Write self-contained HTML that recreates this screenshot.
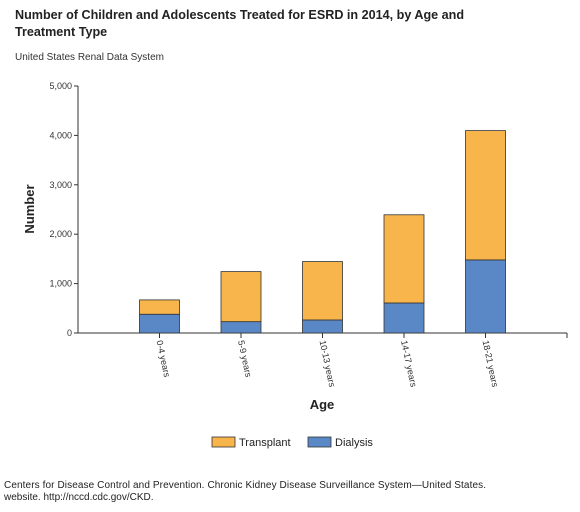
<!DOCTYPE html>
<html><head><meta charset="utf-8"><style>
body{margin:0;background:#fff;width:580px;height:507px;overflow:hidden;font-family:"Liberation Sans",sans-serif;}
</style></head><body>
<svg id="c" width="580" height="507" xmlns="http://www.w3.org/2000/svg">
<text x="15" y="19" font-size="12.6" font-weight="bold" fill="#222">Number of Children and Adolescents Treated for ESRD in 2014, by Age and</text>
<text x="15" y="36" font-size="12.6" font-weight="bold" fill="#222">Treatment Type</text>
<text x="15" y="60" font-size="10" fill="#333">United States Renal Data System</text>
<g id="plot"></g>
<text transform="translate(34,209) rotate(-90)" text-anchor="middle" font-size="13" font-weight="bold" fill="#222">Number</text>
<text x="322" y="409" text-anchor="middle" font-size="13" font-weight="bold" fill="#222">Age</text>
<g><rect x="212" y="437" width="23" height="10" fill="#F8B54B" stroke="#333" stroke-width="0.8"/><text x="239" y="446" font-size="11" fill="#222">Transplant</text></g>
<g><rect x="308" y="437" width="23" height="10" fill="#5A88C6" stroke="#333" stroke-width="0.8"/><text x="335" y="446" font-size="11" fill="#222">Dialysis</text></g>
<text x="4" y="488" font-size="10" textLength="482" fill="#222">Centers for Disease Control and Prevention. Chronic Kidney Disease Surveillance System—United States.</text>
<text x="4" y="500" font-size="10" fill="#222">website. http://nccd.cdc.gov/CKD.</text>
</svg>
<script>
const categories=["0-4 years","5-9 years","10-13 years","14-17 years","18-21 years"];
const dialysis=[380,230,264,608,1480];
const transplant=[290,1013,1182,1785,2617];
const yTicks=[0,1000,2000,3000,4000,5000];
const yTickLabels=["0","1,000","2,000","3,000","4,000","5,000"];
const NS="http://www.w3.org/2000/svg";
const x0=78,x1=567,y0=333,yTop=86,yMax=5000,bw=40;
const y=v=>y0-(v/yMax)*(y0-yTop);
const xc=i=>x0+(x1-x0)/(categories.length+1)*(i+1);
const g=document.getElementById('plot');
function mk(t,a){const e=document.createElementNS(NS,t);for(const k in a)e.setAttribute(k,a[k]);g.appendChild(e);return e;}
let ax=mk('line',{x1:x0,y1:yTop,x2:x0,y2:y0,stroke:'#333','stroke-width':1});


let bx=mk('line',{x1:x0-4,y1:y0,x2:x1,y2:y0,stroke:'#333','stroke-width':1});


mk('line',{x1:x1,y1:y0,x2:x1,y2:y0+5,stroke:'#333'});
yTicks.forEach((v,i)=>{
  mk('line',{x1:x0-4,y1:y(v),x2:x0,y2:y(v),stroke:'#333'});
  const t=mk('text',{x:x0-6,y:y(v)+3,'text-anchor':'end','font-size':9,fill:'#333'});
  t.textContent=yTickLabels[i];
  
  
});
categories.forEach((c,i)=>{
  const cx=xc(i);
  const r1=mk('rect',{x:cx-bw/2,y:y(dialysis[i]),width:bw,height:y0-y(dialysis[i]),fill:'#5A88C6',stroke:'#333','stroke-width':0.8});
  
  
  const tot=dialysis[i]+transplant[i];
  const r2=mk('rect',{x:cx-bw/2,y:y(tot),width:bw,height:y(dialysis[i])-y(tot),fill:'#F8B54B',stroke:'#333','stroke-width':0.8});
  
  
  mk('line',{x1:cx,y1:y0,x2:cx,y2:y0+5,stroke:'#333'});
  const t=mk('text',{x:0,y:0,'font-size':9,fill:'#333',transform:`translate(${cx-3},${y0+8}) rotate(78)`});
  t.textContent=c;
  
  
});
</script>
</body></html>
